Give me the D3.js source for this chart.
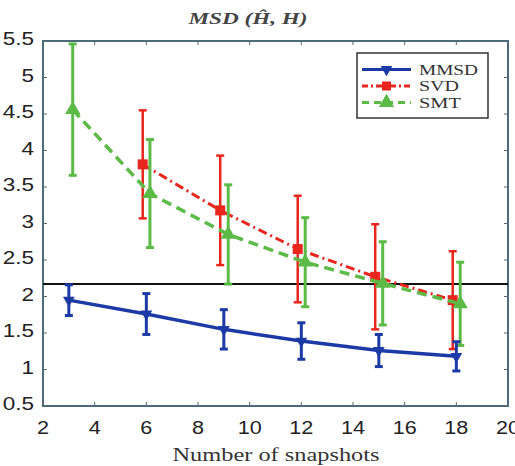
<!DOCTYPE html>
<html><head><meta charset="utf-8">
<script src="https://cdn.jsdelivr.net/npm/d3@7"></script>
<style>body{margin:0;background:#fff}svg{display:block}</style>
</head><body>
<svg id="c" width="515" height="466"></svg>
<script>
const xTicks = [2,4,6,8,10,12,14,16,18,20];
const yTicks = [0.5,1,1.5,2,2.5,3,3.5,4,4.5,5,5.5];
const mmsdX = [3,6,9,12,15,18];
const mmsdY = [1.95,1.76,1.55,1.39,1.26,1.18];
const mmsdErr = [0.21,0.28,0.27,0.25,0.22,0.2];
const svdX = [5.86,8.86,11.86,14.86,17.86];
const svdY = [3.81,3.18,2.65,2.27,1.95];
const svdErr = [0.74,0.75,0.73,0.72,0.67];
const smtX = [3.15,6.14,9.17,12.15,15.15,18.15];
const smtY = [4.56,3.41,2.85,2.47,2.18,1.90];
const smtErr = [0.9,0.74,0.68,0.61,0.57,0.57];
const refLine = 2.17;
const legendLabels = ["MMSD","SVD","SMT"];

const svg = d3.select("#c");
const L=43,R=508,T=41,B=406;
const x = d3.scaleLinear().domain([2,20]).range([L,R]);
const y = d3.scaleLinear().domain([0.5,5.5]).range([B,T]);
const axisCol = "#4d6b78";
const sans = "'Liberation Sans', Arial, sans-serif";
const serif = "'Liberation Serif', 'Times New Roman', serif";

function stretch(sel,f){
  const n = sel.node().getComputedTextLength();
  sel.attr("textLength", n*f).attr("lengthAdjust","spacingAndGlyphs");
}

const g = svg.append("g");
xTicks.forEach(t=>{
  g.append("line").attr("x1",x(t)).attr("x2",x(t)).attr("y1",B).attr("y2",B-4).attr("stroke",axisCol);
  g.append("line").attr("x1",x(t)).attr("x2",x(t)).attr("y1",T).attr("y2",T+4).attr("stroke",axisCol);
  const tx = g.append("text").attr("x",x(t)).attr("y",434).attr("text-anchor","middle")
   .style("font-family",sans).attr("font-size",18).attr("fill","#222").text(t);
  stretch(tx,1.2);
});
yTicks.forEach(t=>{
  g.append("line").attr("x1",L).attr("x2",L+4).attr("y1",y(t)).attr("y2",y(t)).attr("stroke",axisCol);
  g.append("line").attr("x1",R).attr("x2",R-4).attr("y1",y(t)).attr("y2",y(t)).attr("stroke",axisCol);
  const tx = g.append("text").attr("x",34).attr("y",y(t)+4).attr("text-anchor","end")
   .style("font-family",sans).attr("font-size",18).attr("fill","#222").text(t);
  stretch(tx,1.25);
});
svg.append("rect").attr("x",L).attr("y",T).attr("width",R-L).attr("height",B-T)
  .attr("fill","none").attr("stroke",axisCol).attr("stroke-width",2);

// reference line
svg.append("line").attr("x1",L).attr("x2",R).attr("y1",y(refLine)).attr("y2",y(refLine))
  .attr("stroke","#111").attr("stroke-width",2);

const blue="#1c3aa6", red="#e8261e", green="#5cba47";
const line = d3.line().x(d=>x(d[0])).y(d=>y(d[1]));

function errbars(xs,ys,es,col,w){
  const gg = svg.append("g").attr("stroke",col).attr("stroke-width",w);
  xs.forEach((xv,i)=>{
    const cx=x(xv), t=y(ys[i]+es[i]), b=y(ys[i]-es[i]);
    gg.append("line").attr("x1",cx).attr("x2",cx).attr("y1",t).attr("y2",b);
    gg.append("line").attr("x1",cx-4).attr("x2",cx+4).attr("y1",t).attr("y2",t);
    gg.append("line").attr("x1",cx-4).attr("x2",cx+4).attr("y1",b).attr("y2",b);
  });
}

// SVD
errbars(svdX,svdY,svdErr,red,2.5);
svg.append("path").datum(svdX.map((v,i)=>[v,svdY[i]])).attr("d",line)
  .attr("fill","none").attr("stroke",red).attr("stroke-width",3).attr("stroke-dasharray","9,4,2,4");
svdX.forEach((v,i)=>svg.append("rect").attr("x",x(v)-5).attr("y",y(svdY[i])-5).attr("width",10).attr("height",10).attr("fill",red));

// SMT
errbars(smtX,smtY,smtErr,green,3);
svg.append("path").datum(smtX.map((v,i)=>[v,smtY[i]])).attr("d",line)
  .attr("fill","none").attr("stroke",green).attr("stroke-width",3.5).attr("stroke-dasharray","10,6");
const triUp = d3.symbol().type(d3.symbolTriangle).size(100);
smtX.forEach((v,i)=>svg.append("path").attr("d",triUp).attr("transform",`translate(${x(v)},${y(smtY[i])})`).attr("fill",green));

// MMSD
errbars(mmsdX,mmsdY,mmsdErr,blue,3);
svg.append("path").datum(mmsdX.map((v,i)=>[v,mmsdY[i]])).attr("d",line)
  .attr("fill","none").attr("stroke",blue).attr("stroke-width",3.5);
const triDown = d3.symbol().type(d3.symbolTriangle).size(60);
mmsdX.forEach((v,i)=>svg.append("path").attr("d",triDown).attr("transform",`translate(${x(v)},${y(mmsdY[i])}) rotate(180)`).attr("fill",blue));

// legend
const lg = svg.append("g");
lg.append("rect").attr("x",357).attr("y",53).attr("width",131).attr("height",65).attr("fill","#fff").attr("stroke","#333").attr("stroke-width",1.5);
const ly=[69.5,86,102.5];
const cols=[blue,red,green];
const dash=[null,"6,3,2,3","7,5"];
const lw=[59,40,42];
ly.forEach((yy,i)=>{
  const ln=lg.append("line").attr("x1",362).attr("x2",411).attr("y1",yy).attr("y2",yy).attr("stroke",cols[i]).attr("stroke-width",3);
  if(dash[i]) ln.attr("stroke-dasharray",dash[i]);
  const cx=386.5;
  if(i===0) lg.append("path").attr("d",triDown).attr("transform",`translate(${cx},${yy}) rotate(180)`).attr("fill",blue);
  if(i===1) lg.append("rect").attr("x",cx-4.5).attr("y",yy-4.5).attr("width",9).attr("height",9).attr("fill",red);
  if(i===2) lg.append("path").attr("d",triUp).attr("transform",`translate(${cx},${yy})`).attr("fill",green);
  lg.append("text").attr("x",419).attr("y",yy+5).style("font-family",serif)
    .attr("font-size",15).attr("fill","#333").attr("textLength",lw[i]).attr("lengthAdjust","spacingAndGlyphs").text(legendLabels[i]);
});

// title and x label
svg.append("text").attr("x",248).attr("y",24).attr("text-anchor","middle")
  .style("font-family",serif).attr("font-style","italic").attr("font-weight","bold").attr("font-size",16).attr("fill","#444")
  .attr("textLength",119).attr("lengthAdjust","spacingAndGlyphs")
  .text("MSD (Ĥ, H)");
svg.append("text").attr("x",276).attr("y",461).attr("text-anchor","middle")
  .style("font-family",serif).attr("font-size",18).attr("fill","#333")
  .attr("textLength",207).attr("lengthAdjust","spacingAndGlyphs")
  .text("Number of snapshots");
</script>
</body></html>
